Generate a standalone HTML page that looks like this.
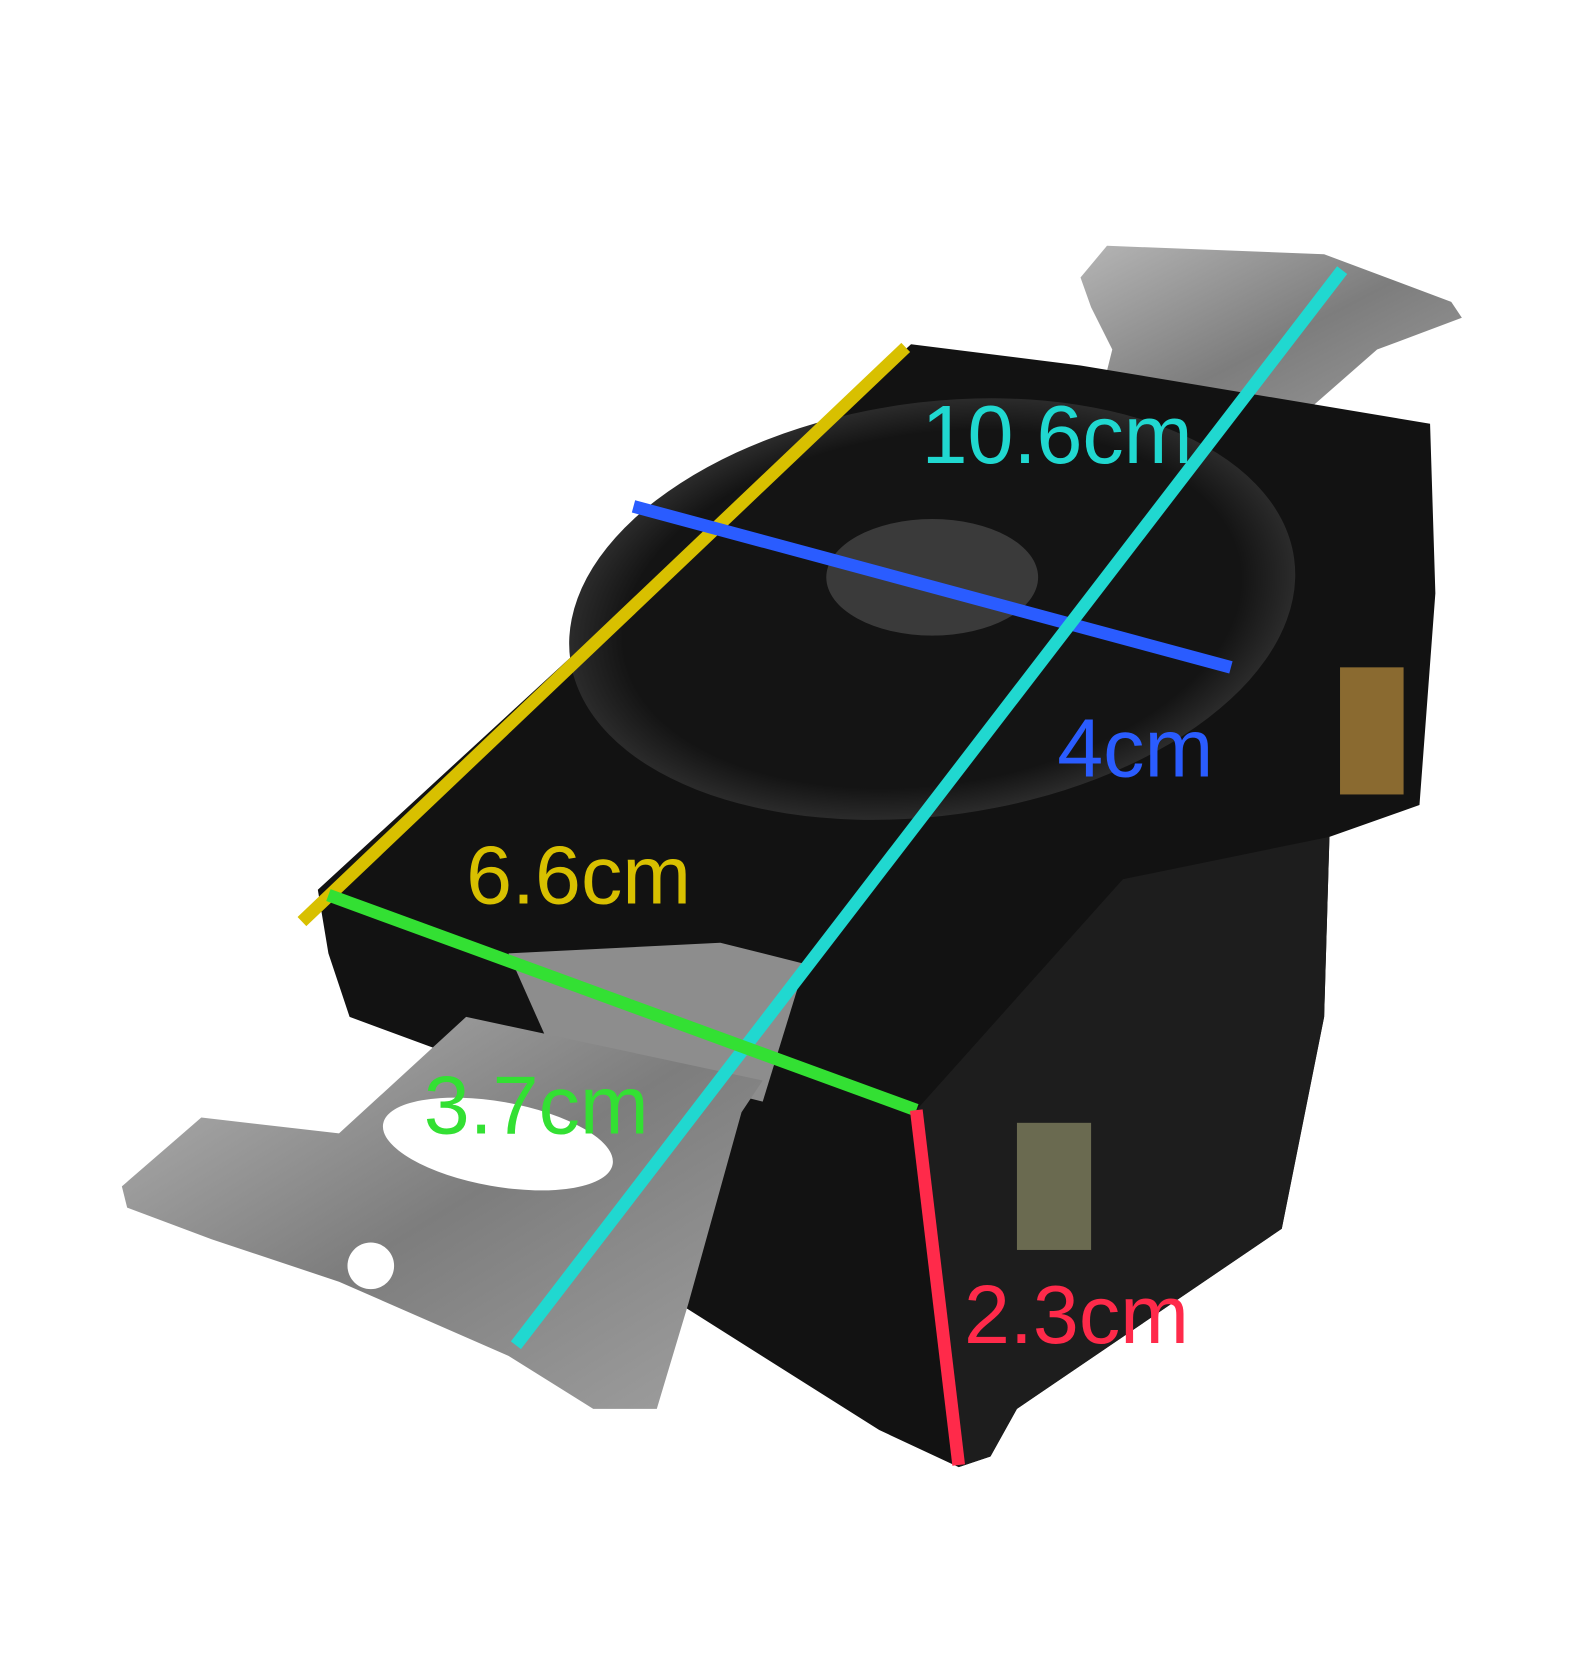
<!DOCTYPE html>
<html><head><meta charset="utf-8"><style>
html,body{margin:0;padding:0;background:#fff;width:1589px;height:1669px;overflow:hidden}
svg{display:block}
text{font-family:"Liberation Sans",sans-serif;font-size:78px}
</style></head><body>
<svg width="1589" height="1669" viewBox="0 0 1500 1575.6" xmlns="http://www.w3.org/2000/svg">
<defs>
<linearGradient id="m" x1="0" y1="0" x2="1" y2="1"><stop offset="0" stop-color="#b5b5b5"/><stop offset=".5" stop-color="#7d7d7d"/><stop offset="1" stop-color="#a0a0a0"/></linearGradient>
<radialGradient id="f" cx=".5" cy=".5" r=".5"><stop offset=".85" stop-color="#141414"/><stop offset="1" stop-color="#2b2b2b"/></radialGradient>
</defs>
<polygon points="1020,262 1045,232 1250,240 1370,285 1380,300 1300,330 1220,400 1160,420 1060,400 1040,370 1050,330 1030,290" fill="url(#m)"/>
<polygon points="300,840 860,325 1020,345 1350,400 1355,560 1340,760 1255,790 1250,960 1210,1160 960,1330 935,1375 905,1385 830,1350 640,1230 520,1030 330,960 310,900" fill="#121212"/>
<polygon points="1060,830 1255,790 1250,960 1210,1160 960,1330 935,1375 905,1385 865,1048" fill="#1d1d1d"/>
<rect x="1265" y="630" width="60" height="120" fill="#8a6a30"/>
<rect x="960" y="1060" width="70" height="120" fill="#6a6a50"/>
<ellipse cx="880" cy="575" rx="345" ry="195" transform="rotate(-8 880 575)" fill="url(#f)"/>
<ellipse cx="880" cy="545" rx="100" ry="55" fill="#3a3a3a"/>
<polygon points="480,900 680,890 760,910 720,1040 520,990" fill="#8d8d8d"/>
<polygon points="115,1120 190,1055 320,1070 440,960 720,1020 700,1050 650,1230 620,1330 560,1330 480,1280 320,1210 200,1170 120,1140" fill="url(#m)"/>
<ellipse cx="470" cy="1080" rx="110" ry="40" transform="rotate(10 470 1080)" fill="#fff"/>
<circle cx="350" cy="1195" r="22" fill="#fff"/>
<g stroke-width="12" stroke-linecap="butt">
<line x1="285" y1="870" x2="855" y2="328" stroke="#d8c000"/>
<line x1="598" y1="478" x2="1162" y2="630" stroke="#2a5cff"/>
<line x1="487" y1="1270" x2="1267" y2="255" stroke="#20d8d0"/>
<line x1="310" y1="845" x2="865" y2="1048" stroke="#33e033"/>
<line x1="865" y1="1048" x2="905" y2="1383" stroke="#ff2a4a"/>
</g>
<text x="870" y="437" fill="#20d8d0">10.6cm</text>
<text x="998" y="733" fill="#2a5cff">4cm</text>
<text x="440" y="853" fill="#d8c000">6.6cm</text>
<text x="400" y="1070" fill="#33e033">3.7cm</text>
<text x="910" y="1268" fill="#ff2a4a">2.3cm</text>
</svg>
</body></html>
